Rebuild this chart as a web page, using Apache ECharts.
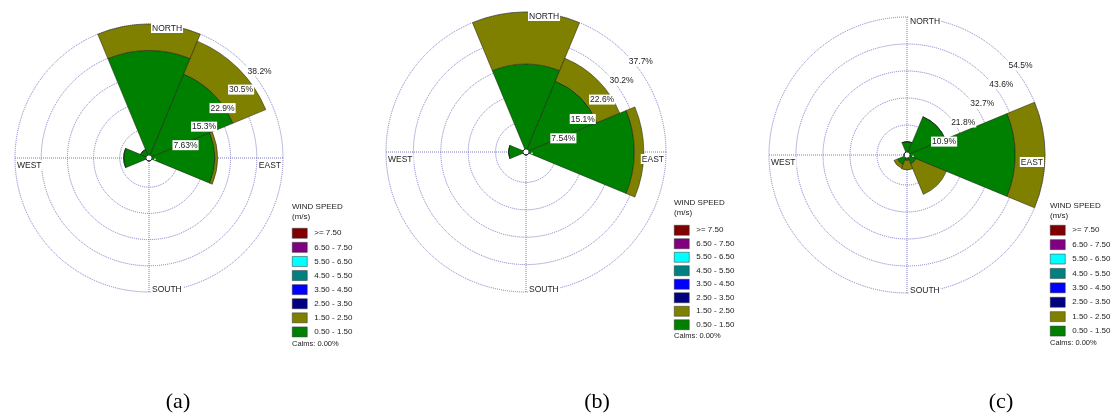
<!DOCTYPE html>
<html>
<head>
<meta charset="utf-8">
<title>Wind roses</title>
<script src="https://cdn.jsdelivr.net/npm/echarts@6/dist/echarts.min.js"></script>
<style>
  html, body { margin: 0; padding: 0; background: #fff; }
  #main { width: 1116px; height: 419px; }
</style>
</head>
<body>
<div id="main"></div>
<script>
// direction sectors, clockwise from north
const directions = ['N', 'NE', 'E', 'SE', 'S', 'SW', 'W', 'NW']
const compassLabels = ['NORTH', 'EAST', 'SOUTH', 'WEST']

// speed classes (m/s), lowest first so the stack grows outwards
const speedClasses = ['0.50 - 1.50', '1.50 - 2.50', '2.50 - 3.50', '3.50 - 4.50',
  '4.50 - 5.50', '5.50 - 6.50', '6.50 - 7.50', '>= 7.50']
const speedColors = ['#008000', '#808000', '#000080', '#0000ff',
  '#008080', '#00ffff', '#800080', '#800000']

// frequency (%) per direction, 0.50-1.50 and 1.50-2.50 m/s
const roseA_low = [30.5, 25.6, 18.3, 0, 0, 0, 6.5, 1.8]
const roseA_mid = [7.7, 10.4, 0.8, 0, 0, 0, 0, 0]
const roseB_low = [23.4, 20.3, 29.0, 0, 0, 0, 4.0, 0]
const roseB_mid = [14.3, 6.8, 2.6, 0, 0, 0, 0, 0]
const roseC_low = [4.2, 15.5, 42.5, 2.7, 1.0, 3.0, 0, 0]
const roseC_mid = [0, 0, 12.0, 13.3, 3.8, 1.5, 0, 0]

// ring labels and outer ring value
const ringLabelsA = ['7.63%', '15.3%', '22.9%', '30.5%', '38.2%']
const ringLabelsB = ['7.54%', '15.1%', '22.6%', '30.2%', '37.7%']
const ringLabelsC = ['10.9%', '21.8%', '32.7%', '43.6%', '54.5%']
const ringMax = [38.2, 37.7, 54.5]

const captions = ['(a)', '(b)', '(c)']
const legendTitle = 'WIND SPEED\n(m/s)'
const calmsText = 'Calms: 0.00%'

// layout of the three panels
const panels = [
  { cx: 149, cy: 158, r: 134, legendX: 292, titleTop: 202, legendTop: 228, gap: 3.6, captionX: 178 },
  { cx: 526, cy: 152, r: 140, legendX: 674, titleTop: 198, legendTop: 225, gap: 3.0, captionX: 597 },
  { cx: 907, cy: 155, r: 138, legendX: 1050, titleTop: 201, legendTop: 225, gap: 3.9, captionX: 1001 }
]
const roseData = [[roseA_low, roseA_mid], [roseB_low, roseB_mid], [roseC_low, roseC_mid]]
const ringLabels = [ringLabelsA, ringLabelsB, ringLabelsC]

const font = 'Liberation Sans, Arial, sans-serif'
const gridLine = { color: '#7a7ac4', type: 'dotted', width: 1 }
const hidden = { show: false }

let polar = [], angleAxis = [], radiusAxis = [], series = [], legend = [], title = [], graphic = []

panels.forEach((p, k) => {
  const base = k * 3
  const max = ringMax[k]
  // 0: sectors, 1: rings and cross, 2: ring labels
  for (let j = 0; j < 3; j++) {
    polar.push({ center: [p.cx, p.cy], radius: [3, p.r] })
  }
  angleAxis.push({
    polarIndex: base, type: 'category', data: directions, startAngle: 112.5,
    axisLine: hidden, axisTick: hidden, axisLabel: hidden, splitLine: hidden
  })
  radiusAxis.push({
    polarIndex: base, min: 0, max: max,
    axisLine: hidden, axisTick: hidden, axisLabel: hidden, splitLine: hidden
  })
  angleAxis.push({
    polarIndex: base + 1, type: 'value', min: 0, max: 360, interval: 90, startAngle: 90,
    axisLine: hidden, axisTick: hidden, axisLabel: hidden,
    splitLine: { show: true, lineStyle: gridLine }
  })
  radiusAxis.push({
    polarIndex: base + 1, min: 0, max: max, interval: max / 5,
    axisLine: hidden, axisTick: hidden, axisLabel: hidden,
    splitLine: { show: true, lineStyle: gridLine }
  })
  angleAxis.push({
    polarIndex: base + 2, type: 'value', min: 0, max: 360, startAngle: 45,
    axisLine: hidden, axisTick: hidden, axisLabel: hidden, splitLine: hidden
  })
  radiusAxis.push({
    polarIndex: base + 2, min: 0, max: max, interval: max / 5, z: 10,
    axisLine: hidden, axisTick: hidden, splitLine: hidden,
    axisLabel: {
      show: true, margin: -4, align: 'left', verticalAlign: 'top',
      fontFamily: font, fontSize: 8.5, color: '#222',
      backgroundColor: '#fff', padding: [1, 1, 0, 1],
      formatter: v => {
        const i = Math.round(v / (max / 5))
        return i > 0 ? ringLabels[k][i - 1] : ''
      }
    }
  })

  speedClasses.forEach((name, c) => {
    series.push({
      type: 'bar', coordinateSystem: 'polar', polarIndex: base,
      name: name, stack: 'rose' + k, barCategoryGap: '0%',
      data: c < 2 ? roseData[k][c] : [],
      itemStyle: { color: speedColors[c], borderColor: '#1a1a1a', borderWidth: 0.5 },
      silent: true
    })
  })

  legend.push({
    orient: 'vertical', left: p.legendX, top: p.legendTop, padding: 0,
    itemWidth: 15, itemHeight: 10, itemGap: p.gap, icon: 'rect',
    selectedMode: false, data: speedClasses.slice().reverse(),
    itemStyle: { borderColor: '#333', borderWidth: 0.5 },
    textStyle: { fontFamily: font, fontSize: 8, color: '#222', lineHeight: 10, padding: [0, 0, 0, 2] }
  })

  title.push({
    text: legendTitle, left: p.legendX, top: p.titleTop, padding: 0,
    textStyle: { fontFamily: font, fontSize: 8, fontWeight: 'normal', color: '#222', lineHeight: 10 }
  })
  title.push({
    text: calmsText, left: p.legendX, top: p.legendTop + 8 * (10 + p.gap) + 3, padding: 0,
    textStyle: { fontFamily: font, fontSize: 7.5, fontWeight: 'normal', color: '#222' }
  })
  title.push({
    text: captions[k], left: p.captionX, top: 391, padding: 0, textAlign: 'center',
    textStyle: { fontFamily: 'Liberation Serif, Times New Roman, serif', fontSize: 22, fontWeight: 'normal', color: '#000' }
  })

  // compass words sit on the outer ring
  const spots = [
    [p.cx + 2, p.cy - p.r - 1, 'left'],
    [p.cx + p.r - 1, p.cy + 2, 'right'],
    [p.cx + 2, p.cy + p.r - 8, 'left'],
    [p.cx - p.r + 1, p.cy + 2, 'left']
  ]
  compassLabels.forEach((txt, i) => {
    graphic.push({
      type: 'text', z: 100, x: spots[i][0], y: spots[i][1], silent: true,
      style: {
        text: txt, fill: '#222', font: '8.5px ' + font,
        align: spots[i][2], verticalAlign: 'top',
        backgroundColor: '#fff', padding: [1, 1, 0, 1]
      }
    })
  })
})

const chart = echarts.init(document.getElementById('main'))
chart.setOption({
  animation: false,
  backgroundColor: '#fff',
  polar: polar,
  angleAxis: angleAxis,
  radiusAxis: radiusAxis,
  legend: legend,
  title: title,
  graphic: graphic,
  series: series
})
</script>
</body>
</html>
